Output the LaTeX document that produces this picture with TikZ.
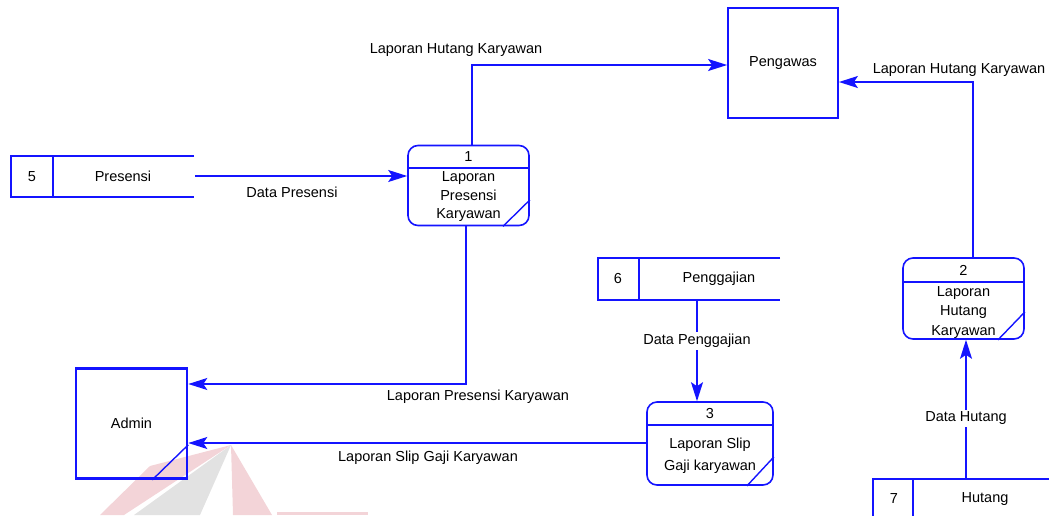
\documentclass[tikz,border=0pt]{standalone}
\usepackage{fontspec}
\setmainfont{Liberation Sans}
\usetikzlibrary{arrows.meta,calc}
\definecolor{dfdblue}{RGB}{20,20,255}
\definecolor{wmred}{RGB}{243,212,216}
\definecolor{wmgrey}{RGB}{226,226,226}
\begin{document}
\begin{tikzpicture}[x=1pt,y=-1pt,
  font=\fontsize{14.5}{17}\selectfont,
  ent/.style={draw=dfdblue, line width=1.8pt, minimum width=110pt, minimum height=110pt, inner sep=0pt},
  proc/.style={draw=dfdblue, line width=1.6pt, rounded corners=10pt, inner sep=0pt},
  store/.style={draw=dfdblue, line width=1.6pt},
  thin/.style={draw=dfdblue, line width=1.4pt},
  flow/.style={draw=dfdblue, line width=1.6pt, -{Stealth[length=19pt,width=12pt,inset=4pt]}},
  lbl/.style={inner sep=1pt},
  wlbl/.style={inner sep=2pt, fill=white}]
\useasboundingbox (0,0) rectangle (1049,515);

% watermark
\fill[wmred] (231,445) -- (150,466) -- (100,515) -- (124,515) -- cycle;
\fill[wmgrey] (231,445) -- (134,515) -- (200,515) -- cycle;
\fill[wmred] (231,445) -- (233,515) -- (272,515) -- cycle;
\fill[wmred] (277,512) rectangle (368,515);

% helper coordinates
\coordinate (x472) at (472,0);
\coordinate (x973) at (973,0);
\coordinate (x466) at (466,0);
\coordinate (y65) at (0,65);
\coordinate (y82) at (0,82);
\coordinate (y384) at (0,384);
\coordinate (y443) at (0,443);

% entities
\node[ent] (peng) at (783,63) {Pengawas};
\node[ent, line width=2.6pt, minimum width=111pt] (admin) at (131.5,423.5) {Admin};
\draw[thin] ($(admin.south east)+(-36,0)$) -- ($(admin.south east)+(0,-35)$);

% process 1
\node[proc, minimum width=121pt, minimum height=80pt] (p1) at (468.5,185.5) {};
\draw[thin] (p1.west |- 0,168) -- (p1.east |- 0,168);
\node[lbl] (p1n) at (468.5,157) {1};
\node[lbl, align=center, font=\fontsize{14.5}{18.5}\selectfont] (p1t) at (468.5,197) {Laporan\\Presensi\\Karyawan};
\draw[thin] (p1.east |- 0,200) -- (p1.south -| 503,0);

% process 2
\node[proc, minimum width=121pt, minimum height=81pt] (p2) at (963.5,298.5) {};
\draw[thin] (p2.west |- 0,282) -- (p2.east |- 0,282);
\node[lbl] (p2n) at (963.5,270) {2};
\node[lbl, align=center, font=\fontsize{14.5}{19.5}\selectfont] (p2t) at (963.5,312.5) {Laporan\\Hutang\\Karyawan};
\draw[thin] (p2.east |- 0,312) -- (p2.south -| 998,0);

% process 3
\node[proc, minimum width=126pt, minimum height=83pt] (p3) at (710,443.5) {};
\draw[thin] (p3.west |- 0,425) -- (p3.east |- 0,425);
\node[lbl] (p3n) at (710,413) {3};
\node[lbl, align=center, font=\fontsize{14.5}{22}\selectfont] (p3t) at (710,456) {Laporan Slip\\Gaji karyawan};
\draw[thin] (p3.east |- 0,457) -- (p3.south -| 747,0);

% data store 5
\draw[store] (194,156) -- (11,156) -- (11,197) -- (194,197);
\draw[store] (53,156) -- (53,197);
\node[lbl] (s5n) at (32,176.5) {5};
\node[lbl] (s5) at (123,176.5) {Presensi};
\coordinate (s5r) at (195,176);

% data store 6
\draw[store] (780,258) -- (598,258) -- (598,300) -- (780,300);
\draw[store] (639,258) -- (639,300);
\node[lbl] (s6n) at (618,279) {6};
\node[lbl] (s6) at (719,279) {Penggajian};
\coordinate (s6b) at (697,300);

% data store 7
\draw[store] (1049,479) -- (873,479) -- (873,525);
\draw[store] (913,479) -- (913,525);
\node[lbl] (s7n) at (894,499) {7};
\node[lbl] (s7) at (985,499) {Hutang};
\coordinate (s7t) at (966,479);

% flows
\draw[flow] (p1.north -| x472) |- (peng.west |- y65);
\draw[flow] (p2.north -| x973) |- (peng.east |- y82);
\draw[flow] (s5r) -- (p1.west |- s5r);
\draw[flow] (p1.south -| x466) |- (admin.east |- y384);
\draw[flow] (p3.west |- y443) -- (admin.east |- y443);
\draw[flow] (s6b) -- (p3.north -| s6b);
\draw[flow] (s7t) -- (p2.south -| s7t);

% flow labels
\node[lbl] (l1) at (456,50) {Laporan Hutang Karyawan};
\node[lbl] (l2) at (959,70) {Laporan Hutang Karyawan};
\node[lbl] (l3) at (292,192) {Data Presensi};
\node[lbl] (l4) at (478,397) {Laporan Presensi Karyawan};
\node[lbl] (l5) at (428,458) {Laporan Slip Gaji Karyawan};
\node[wlbl] (l6) at (697,341) {Data Penggajian};
\node[wlbl] (l7) at (966,418) {Data Hutang};
\end{tikzpicture}
\end{document}
